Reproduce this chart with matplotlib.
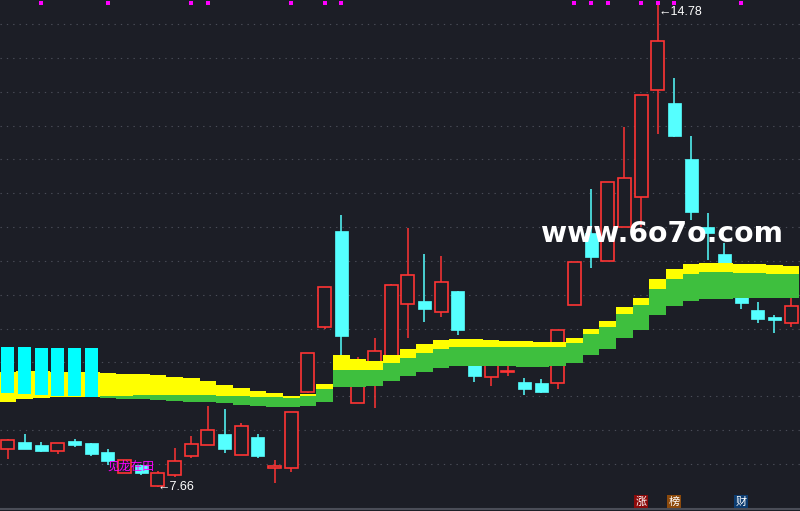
import matplotlib
matplotlib.use("Agg")
import numpy as np
import matplotlib.pyplot as plt
from matplotlib.patches import Rectangle

# K线数据 (开, 高, 低, 收)
opens = [8.22, 8.325, 8.28, 8.19, 8.34, 8.31, 8.18, 7.87, 7.99, 7.67,
         7.84, 8.12, 8.28, 8.44, 8.13, 8.40, 7.94, 7.94, 9.06, 10.02,
         11.44, 8.90, 9.45, 9.39, 10.36, 10.41, 10.245, 10.555, 9.85, 9.285,
         9.36, 9.21, 9.20, 9.20, 10.35, 11.41, 11.00, 11.50, 11.945, 13.53,
         13.33, 12.50, 11.50, 11.10, 10.50, 10.275, 10.17, 10.08]
highs = [8.37, 8.44, 8.325, 8.31, 8.37, 8.31, 8.22, 8.06, 7.99, 7.90,
         8.24, 8.41, 8.86, 8.81, 8.61, 8.44, 8.06, 8.77, 9.64, 10.615,
         11.68, 9.58, 9.86, 10.66, 11.49, 11.10, 11.07, 10.555, 9.85, 9.70,
         9.45, 9.27, 9.26, 9.98, 10.985, 12.06, 12.17, 12.98, 13.45, 14.78,
         13.70, 12.85, 11.71, 11.265, 10.50, 10.39, 10.20, 10.47]
lows = [8.07, 8.22, 8.18, 8.15, 8.25, 8.12, 7.99, 7.86, 7.84, 7.66,
        7.81, 8.09, 8.28, 8.16, 8.13, 8.09, 7.72, 7.88, 9.05, 9.995,
        9.60, 8.90, 8.83, 9.35, 9.86, 10.10, 10.17, 9.906, 9.21, 9.15,
        9.30, 9.02, 9.05, 9.11, 10.35, 10.90, 11.00, 11.50, 11.50, 12.875,
        12.83, 11.605, 11.01, 10.85, 10.29, 10.08, 9.936, 10.02]
closes = [8.355, 8.22, 8.19, 8.31, 8.28, 8.15, 8.045, 8.06, 7.86, 7.87,
          8.045, 8.30, 8.50, 8.22, 8.56, 8.12, 7.97, 8.77, 9.64, 10.615,
          9.89, 9.315, 9.67, 10.645, 10.79, 10.29, 10.69, 9.98, 9.30, 9.655,
          9.37, 9.11, 9.065, 9.98, 10.985, 11.06, 12.17, 12.225, 13.45, 14.25,
          12.85, 11.72, 11.41, 10.87, 10.38, 10.14, 10.13, 10.335]

# 通道: 上沿 / 分界 / 下沿
band_top = [9.36, 9.374, 9.374, 9.36, 9.36, 9.36, 9.345, 9.33, 9.33, 9.315,
            9.285, 9.271, 9.226, 9.167, 9.123, 9.079, 9.049, 9.005, 9.034, 9.182,
            9.61, 9.552, 9.522, 9.61, 9.699, 9.773, 9.832, 9.847, 9.847, 9.832,
            9.817, 9.817, 9.803, 9.803, 9.862, 9.995, 10.113, 10.32, 10.45, 10.73,
            10.88, 10.955, 10.97, 10.97, 10.955, 10.955, 10.94, 10.925]
band_mid = [8.916, 8.96, 8.975, 8.99, 8.99, 8.99, 9.005, 9.005, 9.02, 9.02,
            9.02, 9.02, 9.02, 9.005, 9.005, 8.99, 8.99, 8.975, 9.005, 9.108,
            9.389, 9.389, 9.389, 9.492, 9.566, 9.64, 9.699, 9.729, 9.729, 9.729,
            9.729, 9.729, 9.729, 9.729, 9.788, 9.92, 10.024, 10.216, 10.35, 10.585,
            10.73, 10.81, 10.84, 10.84, 10.82, 10.82, 10.81, 10.81]
band_bot = [8.916, 8.96, 8.975, 8.99, 8.99, 8.99, 8.975, 8.96, 8.96, 8.946,
            8.931, 8.916, 8.916, 8.901, 8.872, 8.857, 8.842, 8.842, 8.857, 8.916,
            9.138, 9.138, 9.152, 9.226, 9.30, 9.36, 9.419, 9.448, 9.448, 9.448,
            9.448, 9.433, 9.433, 9.448, 9.492, 9.61, 9.699, 9.862, 9.98, 10.20,
            10.335, 10.41, 10.44, 10.44, 10.45, 10.45, 10.45, 10.45]

# 左侧青色柱
cyan_top = [9.729, 9.729, 9.714, 9.714, 9.714, 9.714]
cyan_bot = [9.049, 9.034, 9.02, 9.005, 9.005, 8.99]

grid_levels = [8.0, 8.5, 9.0, 9.5, 10.0, 10.5, 11.0, 11.5, 12.0, 12.5, 13.0, 13.5, 14.0, 14.5]
dot_idx = [2, 6, 11, 12, 17, 19, 20, 34, 35, 36, 38, 39, 40, 44]
badges = [(38, "涨", "#8c0a0a"), (40, "榜", "#8c4a0c"), (44, "财", "#0c3c70")]

BG = "#1c1e26"
RED = "#ff3434"
CYAN = "#55ffff"

n = len(opens)
x = np.arange(n)

fig = plt.figure(figsize=(8, 5.11), dpi=100, facecolor=BG)
ax = fig.add_axes([0, 0, 1, 1])
ax.set_facecolor(BG)
ax.set_xlim(-0.48, 47.54)
ax.set_ylim(7.305, 14.855)
ax.axis("off")

for g in grid_levels:
    ax.axhline(g, color="#4a4d58", lw=0.8, linestyle=(0, (1.2, 4.5)), zorder=1)

# 画K线
w = 0.78
for i in range(n):
    o, h, l, c = opens[i], highs[i], lows[i], closes[i]
    if c >= o:
        ax.vlines(i, l, h, color=RED, lw=1.1, zorder=2)
        ax.add_patch(Rectangle((i - w / 2, o), w, max(c - o, 0.012),
                               facecolor=BG, edgecolor=RED, lw=1.2, zorder=3))
    else:
        ax.vlines(i, l, h, color=CYAN, lw=1.1, zorder=2)
        ax.add_patch(Rectangle((i - w / 2, c), w, o - c,
                               facecolor=CYAN, edgecolor=CYAN, lw=0.5, zorder=3))

# 通道
top = np.array(band_top)
mid = np.array(band_mid)
bot = np.array(band_bot)
ax.bar(x, top - mid, bottom=mid, width=1.0, color="#ffff00", lw=0, zorder=4)
ax.bar(x, mid - bot, bottom=bot, width=1.0, color="#3ebf3e", lw=0, zorder=5)

cx = np.arange(len(cyan_top))
ax.bar(cx, np.array(cyan_top) - np.array(cyan_bot), bottom=cyan_bot, width=w,
       color="#00ffff", lw=0, zorder=6)

# 顶部信号点
ax.scatter(dot_idx, [1 - 3 / 511] * len(dot_idx), marker="s", s=6, color="#ff00ff",
           lw=0, transform=ax.get_xaxis_transform(), zorder=7, clip_on=False)

lab_font = ["Liberation Sans", "DejaVu Sans"]
ax.annotate("←14.78", xy=(int(np.argmax(highs)), max(highs)), xytext=(0.5, -0.5),
            textcoords="offset points", ha="left", va="top", color="white",
            fontsize=9, family=lab_font, zorder=8)
ax.annotate("←7.66", xy=(int(np.argmin(lows)), min(lows)), xytext=(0, 0),
            textcoords="offset points", ha="left", va="center", color="white",
            fontsize=9, family=lab_font, zorder=8)

ax.text(7.4, 7.97, "见龙在田", color="#ff00ff", fontsize=8.5, ha="center", va="center",
        family=["Noto Sans CJK SC", "DejaVu Sans"], zorder=8)

ax.text(0.8275, 0.542, "www.6o7o.com", transform=ax.transAxes, color="white",
        fontsize=20.3, fontweight="bold", family="DejaVu Sans", ha="center", va="center",
        zorder=9)

for idx, ch, col in badges:
    ax.text(idx, 0.018, ch, transform=ax.get_xaxis_transform(), color="white",
            fontsize=8, ha="center", va="center", family=["Noto Sans CJK SC", "DejaVu Sans"],
            bbox=dict(boxstyle="square,pad=0.12", facecolor=col, edgecolor="none"), zorder=9)

ax.plot([0, 1], [0.004, 0.004], transform=ax.transAxes, color="#4a4d57", lw=1.5, zorder=9)

fig.savefig("out.png", dpi=100, facecolor=BG)
